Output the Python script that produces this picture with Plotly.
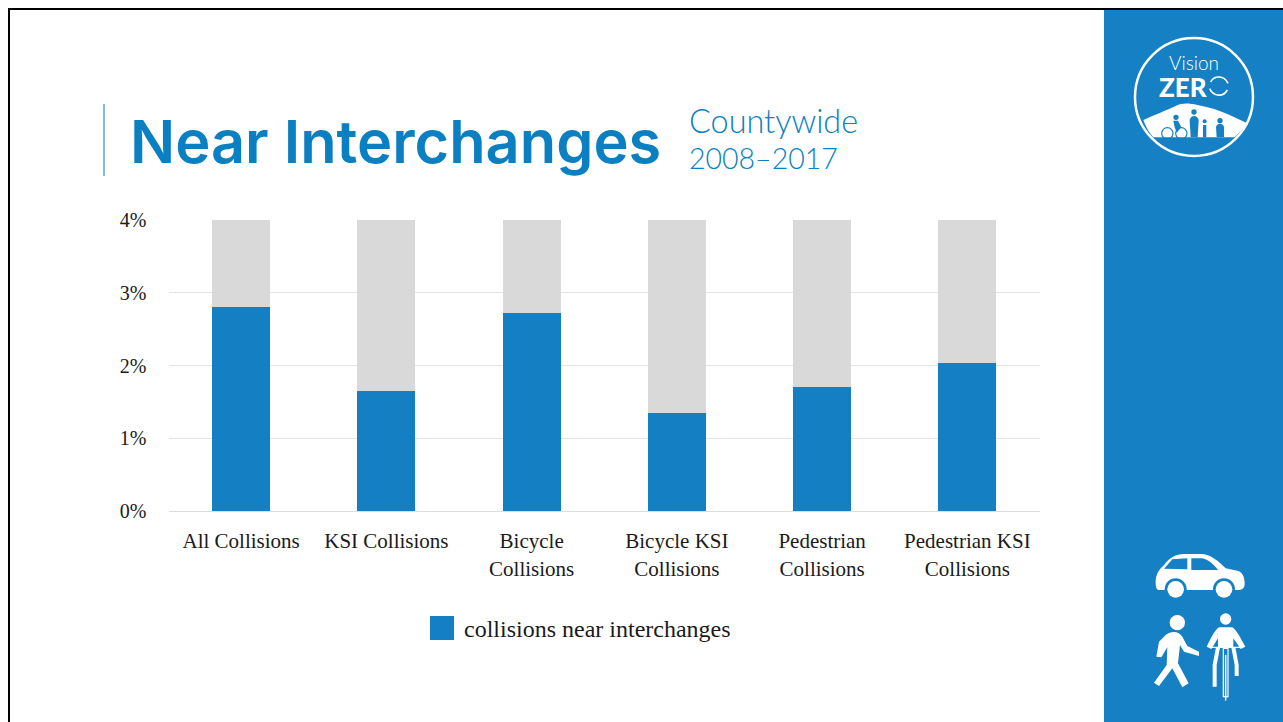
import re
import plotly.graph_objects as go

categories = ["All Collisions", "KSI Collisions", "Bicycle<br>Collisions", "Bicycle KSI<br>Collisions",
              "Pedestrian<br>Collisions", "Pedestrian KSI<br>Collisions"]
near_values = [2.80, 1.65, 2.72, 1.35, 1.71, 2.03]
other_values = [1.20, 2.35, 1.28, 2.65, 2.29, 1.97]
y_ticks = [0, 1, 2, 3, 4]
y_tick_labels = ["0%", "1%", "2%", "3%", "4%"]
legend_label = "collisions near interchanges"
title_text = "Near Interchanges"
subtitle_lines = ["Countywide", "2008–2017"]

W, H = 1283, 722
BLUE = "#157fc3"
PANEL = "#1580c4"
TITLE = "#0a7fc1"
SERIF = "Liberation Serif"
SANS = "Lato"


def fx(x):
    return x / W


def fy(y):
    return 1 - y / H


def path(d, ox=0, oy=0, s=1.0):
    nums = re.compile(r"(-?\d+\.?\d*),(-?\d+\.?\d*)")
    return nums.sub(lambda m: f"{fx(ox + float(m[1]) * s):.5f},{fy(oy + float(m[2]) * s):.5f}", d)


shapes = []


def add_path(d, ox=0, oy=0, s=1.0, fill="white", line=None, lw=0):
    shapes.append(dict(type="path", xref="paper", yref="paper", path=path(d, ox, oy, s),
                       fillcolor=fill, line=dict(color=line or "rgba(0,0,0,0)", width=lw), layer="above"))


def add_circle(cx, cy, r, fill="white", line=None, lw=0):
    shapes.append(dict(type="circle", xref="paper", yref="paper", x0=fx(cx - r), x1=fx(cx + r),
                       y0=fy(cy + r), y1=fy(cy - r), fillcolor=fill,
                       line=dict(color=line or "rgba(0,0,0,0)", width=lw), layer="above"))


def add_rect(x0, y0, x1, y1, fill):
    shapes.append(dict(type="rect", xref="paper", yref="paper", x0=fx(x0), x1=fx(x1), y0=fy(y1), y1=fy(y0),
                       fillcolor=fill, line=dict(width=0), layer="above"))


# slide frame and side panel
add_rect(8, 8, W, 10, "#000000")
add_rect(8, 8, 10, H, "#000000")
add_rect(1104, 10, W, H, PANEL)
add_rect(103, 104, 105, 176, "#7fbfe5")
# legend swatch
add_rect(430, 616, 454, 640, BLUE)

# logo (coordinates in a 3x local space)
LX, LY, S = 1104, 20, 1 / 3
add_circle(1194, 97, 59, fill="rgba(0,0,0,0)", line="white", lw=2.5)
add_path("M118,300 C150,285 190,270 215,258 C235,248 255,250 280,255 C320,262 345,272 370,282 L430,310 "
         "C420,325 405,340 392,352 L148,352 C135,338 125,320 118,300 Z", LX, LY, S)
for cx, cy, r in [(216, 292, 8), (270, 276, 8), (302, 304, 6), (348, 302, 8)]:
    add_circle(LX + cx * S, LY + cy * S, r * S, fill=PANEL)
add_path("M260,352 L257,300 C260,284 280,284 284,300 L281,352 Z", LX, LY, S, fill=PANEL)
add_path("M297,352 L297,315 L307,315 L307,352 Z", LX, LY, S, fill=PANEL)
add_path("M338,352 L336,320 C340,308 356,308 360,320 L360,352 Z", LX, LY, S, fill=PANEL)
add_path("M208,302 L222,302 L232,322 L218,338 L212,322 Z", LX, LY, S, fill=PANEL)
add_circle(LX + 190 * S, LY + 340 * S, 17 * S, fill="rgba(0,0,0,0)", line=PANEL, lw=1.2)
add_circle(LX + 232 * S, LY + 340 * S, 17 * S, fill="rgba(0,0,0,0)", line=PANEL, lw=1.2)
add_path("M320,186 C330,166 360,165 372,190", LX, LY, S, fill="rgba(0,0,0,0)", line="white", lw=1.6)
add_path("M370,210 C358,232 328,230 317,206", LX, LY, S, fill="rgba(0,0,0,0)", line="white", lw=1.6)

# car
IX, IY = 1104, 540
add_path("M155,128 C155,105 162,92 180,75 C198,52 215,42 240,42 L290,42 C320,42 345,65 365,85 L400,92 "
         "C415,95 422,110 422,130 C422,145 415,150 405,150 L165,150 C158,150 155,140 155,128 Z", IX, IY, S)
add_path("M180,86 L205,58 L250,55 L250,88 Z", IX, IY, S, fill=PANEL)
add_path("M262,55 L295,55 C315,60 330,75 342,90 L262,90 Z", IX, IY, S, fill=PANEL)
for cx in (215, 360):
    add_circle(IX + cx * S, IY + 148 * S, 33 * S, fill=PANEL)
    add_circle(IX + cx * S, IY + 148 * S, 25 * S, fill="white")

# pedestrian
add_circle(IX + 220 * S, IY + 248 * S, 23 * S)
add_path("M185,285 C200,272 225,272 235,290 L250,318 L285,335 L285,348 L240,335 L228,315 L222,370 L254,430 "
         "L235,442 L205,385 L165,438 L150,428 L188,375 L190,322 L172,352 L157,350 L165,305 Z", IX, IY, S)

# cyclist
add_circle(IX + 365 * S, IY + 237 * S, 17 * S)
add_path("M345,262 L385,262 C395,268 405,285 424,320 L410,327 L388,295 L388,322 L342,322 L342,295 L322,327 "
         "L308,320 C325,285 335,268 345,262 Z", IX, IY, S)
add_path("M320,322 L412,322", IX, IY, S, fill="rgba(0,0,0,0)", line="white", lw=1.2)
add_path("M342,322 L332,375 L332,440", IX, IY, S, fill="rgba(0,0,0,0)", line="white", lw=4)
add_path("M388,322 L398,375 L398,408", IX, IY, S, fill="rgba(0,0,0,0)", line="white", lw=4)
add_path("M358,325 L372,325 L372,470 L358,470 Z", IX, IY, S, fill="rgba(0,0,0,0)", line="white", lw=1.2)
add_path("M365,345 L365,482", IX, IY, S, fill="rgba(0,0,0,0)", line="white", lw=1.5)

annotations = [
    dict(text=title_text, x=fx(128.5), y=fy(141), xanchor="left", yanchor="middle",
         font=dict(family="Inter", size=59.5, color=TITLE, weight=600)),
    dict(text=subtitle_lines[0], x=fx(688), y=fy(120.5), xanchor="left", yanchor="middle",
         font=dict(family=SANS, size=32.4, color=TITLE, weight=300)),
    dict(text=subtitle_lines[1], x=fx(688), y=fy(158), xanchor="left", yanchor="middle",
         font=dict(family=SANS, size=28.5, color=TITLE, weight=300)),
    dict(text="Vision", x=fx(1194), y=fy(63), xanchor="center", yanchor="middle",
         font=dict(family=SANS, size=19, color="white", weight=300)),
    dict(text="ZER", x=fx(1158), y=fy(87), xanchor="left", yanchor="middle",
         font=dict(family=SANS, size=26, color="white", weight=900)),
]
for a in annotations:
    a.update(xref="paper", yref="paper", showarrow=False, borderpad=0)

fig = go.Figure()
fig.add_bar(x=categories, y=near_values, name=legend_label, marker=dict(color=BLUE, line=dict(width=0)), width=0.4)
fig.add_bar(x=categories, y=other_values, name="other", marker=dict(color="#d9d9d9", line=dict(width=0)), width=0.4,
            showlegend=False)
fig.update_layout(
    width=W, height=H, autosize=False, margin=dict(l=0, r=0, t=0, b=0, autoexpand=False),
    paper_bgcolor="white", plot_bgcolor="white", barmode="stack",
    font=dict(family=SERIF, size=20, color="#1a1a1a"),
    showlegend=True,
    legend=dict(x=fx(424), y=fy(628), xanchor="left", yanchor="middle",
                orientation="h", bgcolor="rgba(0,0,0,0)", font=dict(family=SERIF, size=24, color="#1a1a1a"),
                itemclick=False),
    xaxis=dict(domain=[fx(168.5), fx(1040)], showgrid=False, showline=True, linecolor="#dcdcdc", linewidth=1,
               ticks="", tickangle=0, tickfont=dict(size=21), anchor="y", ticklabelstandoff=11, automargin=False),
    yaxis=dict(domain=[fy(511), fy(220)], range=[0, 4], tickvals=y_ticks, ticktext=y_tick_labels,
               showgrid=True, gridcolor="#e4e4e4", gridwidth=1, zeroline=False, ticks="",
               tickfont=dict(size=20), ticklabelstandoff=21, automargin=False),
    shapes=shapes, annotations=annotations,
)
fig.write_html("out.html", config=dict(displayModeBar=False),
               post_script="document.body.style.margin='0';document.body.style.overflow='hidden';")
